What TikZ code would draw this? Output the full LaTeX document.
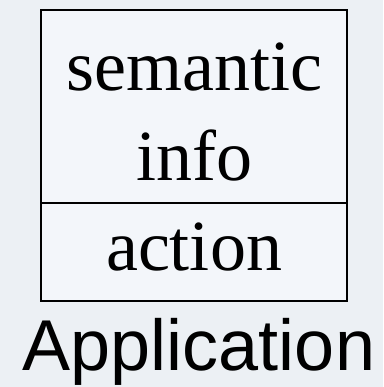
\documentclass[tikz,border=0pt]{standalone}
\usepackage{fontspec}
\setmainfont{Liberation Serif}
\newfontfamily\labelfont{Liberation Sans}
\definecolor{bgcol}{RGB}{236,240,244}
\definecolor{boxcol}{RGB}{243,246,250}
\begin{document}
\begin{tikzpicture}[x=1pt,y=1pt,
  part/.style={draw=black,line width=2pt,fill=boxcol,minimum width=306pt,inner sep=0pt,anchor=north},
  word/.style={font=\fontsize{72}{72}\selectfont,inner sep=0pt,anchor=base},
  caption/.style={font=\labelfont\fontsize{72}{72}\selectfont,inner sep=0pt,anchor=base}]
  % canvas
  \fill[bgcol] (0,0) rectangle (383,-387);
  \useasboundingbox (0,0) rectangle (383,-387);
  % the two compartments of the box
  \node[part,minimum height=193pt] (upper) at (194,-9) {};
  \node[part,minimum height=98pt] (lower) at (194,-202) {};
  % texts
  \node[word] (sem) at (194,-91) {semantic};
  \node[word] (info) at (194,-180) {info};
  \node[word] (act) at (194,-270) {action};
  \node[caption] (app) at (199,-370) {Application};
\end{tikzpicture}
\end{document}
